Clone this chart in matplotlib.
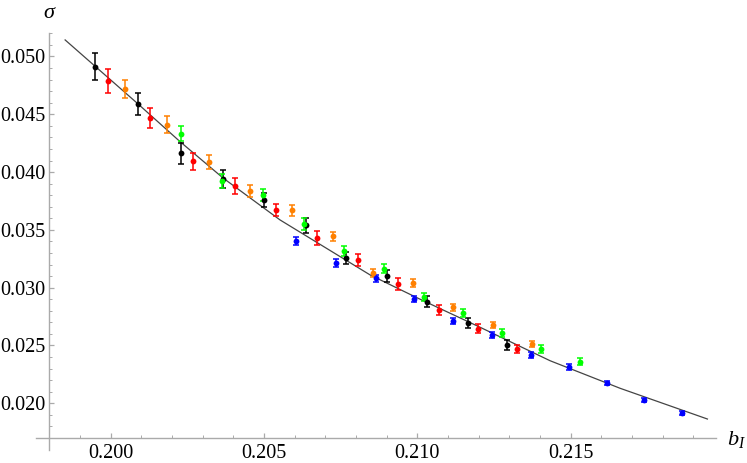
import matplotlib
matplotlib.use("Agg")
import matplotlib.pyplot as plt
from matplotlib.ticker import FixedLocator, FormatStrFormatter
import numpy as np

plt.rcParams['font.family'] = ['Liberation Serif', 'DejaVu Serif']
plt.rcParams['mathtext.fontset'] = 'custom'
plt.rcParams['mathtext.it'] = 'Liberation Serif:italic'
plt.rcParams['mathtext.rm'] = 'Liberation Serif'

# ---- data (b_I, sigma, error) ----
b_black = [0.19948, 0.20089, 0.20229, 0.20366, 0.20501, 0.20636, 0.20767, 0.20900, 0.21032, 0.21164, 0.21293]
s_black = [0.04912, 0.04587, 0.04163, 0.03940, 0.03759, 0.03538, 0.03261, 0.03101, 0.02878, 0.02697, 0.02504]
e_black = [0.00119, 0.00095, 0.00089, 0.00074, 0.00061, 0.00065, 0.00052, 0.00052, 0.00048, 0.00043, 0.00043]

b_red = [0.19990, 0.20129, 0.20267, 0.20405, 0.20540, 0.20674, 0.20806, 0.20937, 0.21069, 0.21199, 0.21326]
s_red = [0.04788, 0.04468, 0.04093, 0.03880, 0.03672, 0.03432, 0.03237, 0.03032, 0.02811, 0.02645, 0.02467]
e_red = [0.00104, 0.00087, 0.00076, 0.00067, 0.00056, 0.00061, 0.00052, 0.00052, 0.00043, 0.00039, 0.00035]

b_orange = [0.20045, 0.20184, 0.20321, 0.20455, 0.20591, 0.20724, 0.20856, 0.20987, 0.21116, 0.21245, 0.21373]
s_orange = [0.04716, 0.04409, 0.04085, 0.03834, 0.03668, 0.03443, 0.03127, 0.03038, 0.02830, 0.02677, 0.02510]
e_orange = [0.00078, 0.00072, 0.00062, 0.00052, 0.00048, 0.00039, 0.00035, 0.00035, 0.00030, 0.00030, 0.00026]

b_green = [0.20229, 0.20364, 0.20498, 0.20631, 0.20762, 0.20892, 0.21021, 0.21150, 0.21277, 0.21404, 0.21531]
s_green = [0.04330, 0.03923, 0.03798, 0.03553, 0.03318, 0.03162, 0.02920, 0.02779, 0.02611, 0.02467, 0.02360]
e_green = [0.00065, 0.00061, 0.00052, 0.00052, 0.00043, 0.00039, 0.00035, 0.00035, 0.00035, 0.00035, 0.00030]

b_blue = [0.20605, 0.20735, 0.20864, 0.20990, 0.21116, 0.21243, 0.21369, 0.21493, 0.21617, 0.21739, 0.21863]
s_blue = [0.03407, 0.03214, 0.03081, 0.02902, 0.02716, 0.02595, 0.02418, 0.02314, 0.02173, 0.02031, 0.01919]
e_blue = [0.00035, 0.00035, 0.00030, 0.00026, 0.00026, 0.00026, 0.00026, 0.00022, 0.00017, 0.00017, 0.00017]

# fitted curve
b_fit = [0.19851, 0.20089, 0.20226, 0.20366, 0.20552, 0.20846, 0.21009, 0.21205, 0.21433, 0.21661, 0.21946]
s_fit = [0.05143, 0.04589, 0.04263, 0.03949, 0.03586, 0.03110, 0.02900, 0.02657, 0.02368, 0.02130, 0.01864]

x_ticks = [0.200, 0.205, 0.210, 0.215]
y_ticks = [0.020, 0.025, 0.030, 0.035, 0.040, 0.045, 0.050]

series = [
    (b_black, s_black, e_black, '#000000'),
    (b_red, s_red, e_red, '#ff0000'),
    (b_orange, s_orange, e_orange, '#ff8000'),
    (b_green, s_green, e_green, '#00ff00'),
    (b_blue, s_blue, e_blue, '#0000ff'),
]

W, H = 747, 463
fig = plt.figure(figsize=(W / 100, H / 100), dpi=100)
ax = fig.add_axes([36 / W, 13 / H, 680 / W, 417 / H])
ax.set_xlim(0.19756, 0.21974)
ax.set_ylim(0.01596, 0.05203)

ax.plot(b_fit, s_fit, color='#444444', lw=0.9, zorder=2)
for bx, sy, ey, c in series:
    ax.errorbar(bx, sy, yerr=ey, fmt='none', ecolor=c,
                elinewidth=1.1, capsize=2.3, capthick=1.1, zorder=3)
    ax.plot(bx, sy, 'o', color=c, ms=4.2, mec='none', zorder=4)

axis_col = '#aaaaaa'
for s in ['top', 'right']:
    ax.spines[s].set_visible(False)
ax.spines['left'].set_position(('data', 0.19799))
ax.spines['bottom'].set_position(('data', 0.016972))
for s in ['left', 'bottom']:
    ax.spines[s].set_color(axis_col)
    ax.spines[s].set_linewidth(1.0)

ax.xaxis.set_major_locator(FixedLocator(x_ticks))
ax.yaxis.set_major_locator(FixedLocator(y_ticks))
ax.xaxis.set_minor_locator(FixedLocator(np.arange(0.199, 0.21951, 0.001)))
ax.yaxis.set_minor_locator(FixedLocator(np.arange(0.017, 0.05251, 0.001)))
ax.xaxis.set_major_formatter(FormatStrFormatter('%.3f'))
ax.yaxis.set_major_formatter(FormatStrFormatter('%.3f'))
ax.tick_params(which='major', direction='in', length=3.5, width=0.9, color=axis_col,
               labelsize=14.5, labelcolor='black')
ax.tick_params(which='minor', direction='in', length=2.0, width=0.7, color=axis_col)
ax.tick_params(axis='x', which='major', pad=4)
ax.tick_params(axis='y', which='major', pad=3)

fig.text(50 / W, 1 - 13.5 / H, r'$\sigma$', ha='center', va='center', fontsize=16)
fig.text(727 / W, 1 - 440 / H, r'$b_I$', ha='left', va='center', fontsize=16)

fig.savefig('out.png', dpi=100)
